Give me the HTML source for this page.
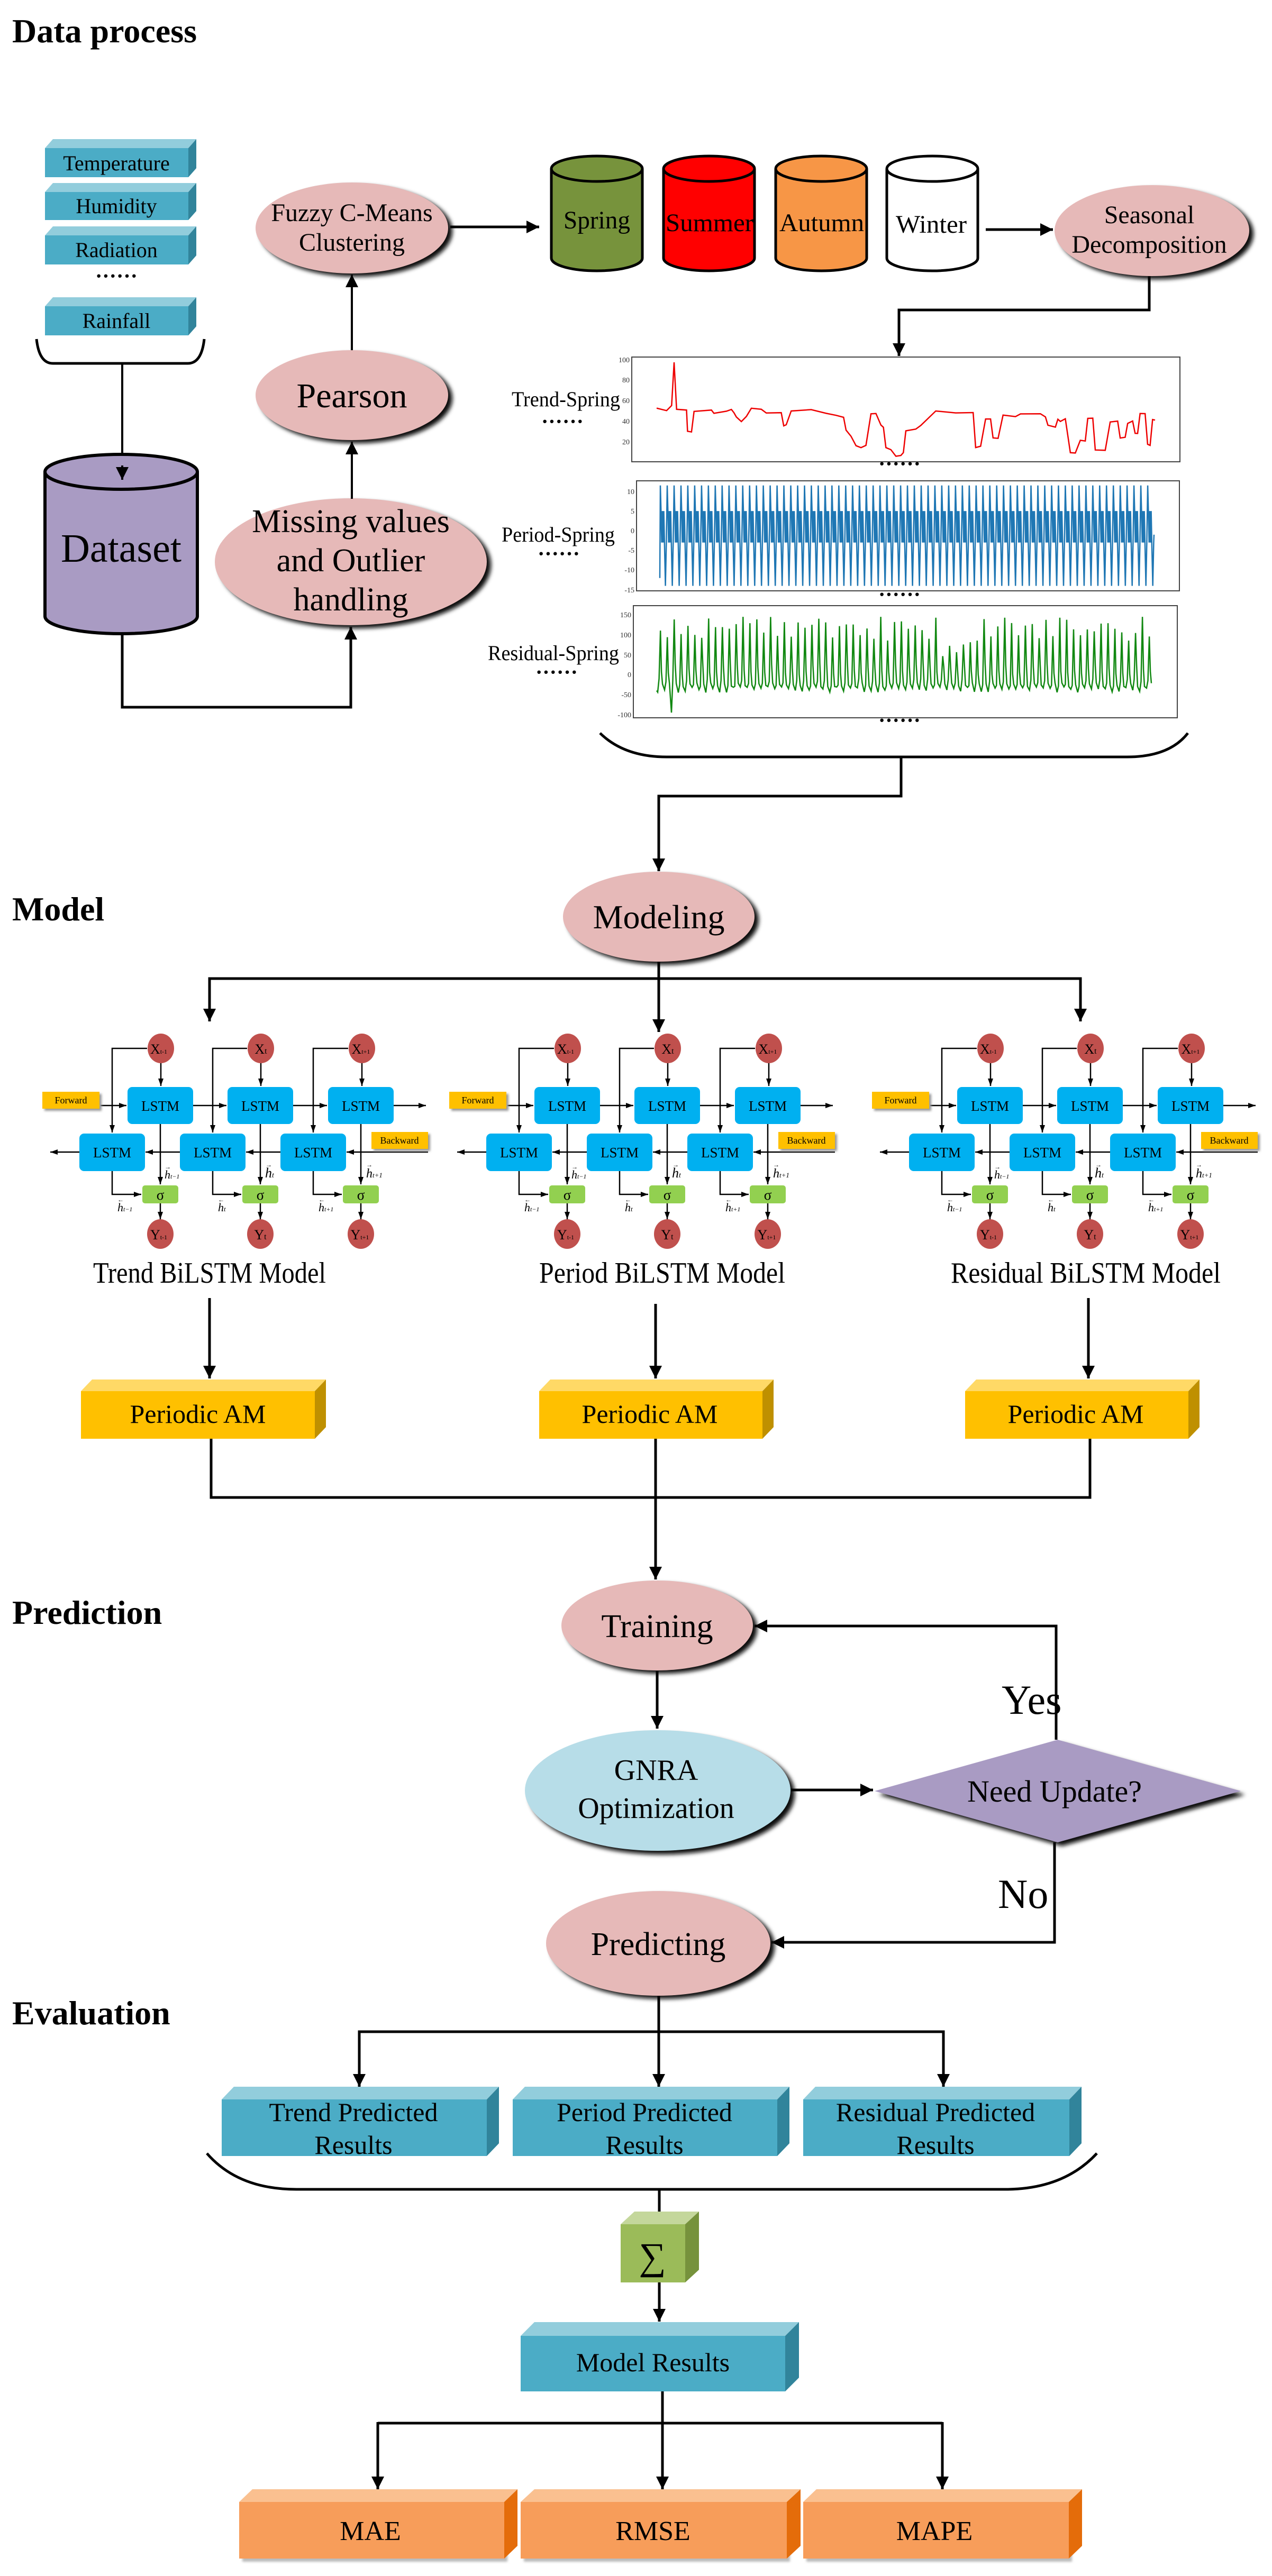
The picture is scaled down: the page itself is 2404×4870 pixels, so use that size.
<!DOCTYPE html>
<html><head><meta charset="utf-8"><style>
html,body{margin:0;padding:0;background:#fff;}
svg{display:block;}
text{font-family:"Liberation Serif",serif;}
</style></head><body>
<svg id="s" width="2404" height="4870" viewBox="0 0 2404 4870" xmlns="http://www.w3.org/2000/svg">
<defs>
<marker id="a" markerUnits="userSpaceOnUse" markerWidth="24" markerHeight="40" refX="24" refY="12" orient="auto"><path d="M0,0 L36,12 L0,24 Z" transform="scale(0.667,1)" fill="#000"/></marker>
<marker id="b" markerUnits="userSpaceOnUse" markerWidth="24" markerHeight="40" refX="34" refY="12" orient="auto"><path d="M0,0 L34,12 L0,24 Z" fill="#000"/></marker>
<marker id="sa" markerUnits="userSpaceOnUse" markerWidth="14" markerHeight="12" refX="14" refY="5" orient="auto"><path d="M0,0 L14,5 L0,10 Z" fill="#000"/></marker>
<filter id="sh" x="-20%" y="-20%" width="150%" height="150%"><feGaussianBlur stdDeviation="4"/></filter>
<filter id="sh2" x="-20%" y="-50%" width="150%" height="200%"><feGaussianBlur stdDeviation="2"/></filter>
</defs>

<!-- Section titles -->
<g font-weight="bold" font-size="64" fill="#000">
<text x="23" y="80">Data process</text>
<text x="23" y="1740">Model</text>
<text x="23" y="3070">Prediction</text>
<text x="23" y="3827">Evaluation</text>
</g>

<!-- Input cubes -->
<g font-size="40" text-anchor="middle">
<g><path d="M85,280 L100,263 L371,263 L356,280Z" fill="#92cddc"/><path d="M356,280 L371,263 L371,318 L356,335Z" fill="#31849b"/><rect x="85" y="280" width="271" height="55" fill="#4bacc6"/><text x="220" y="322">Temperature</text></g>
<g><path d="M85,363 L100,346 L371,346 L356,363Z" fill="#92cddc"/><path d="M356,363 L371,346 L371,399 L356,416Z" fill="#31849b"/><rect x="85" y="363" width="271" height="53" fill="#4bacc6"/><text x="220" y="403">Humidity</text></g>
<g><path d="M85,445 L100,428 L371,428 L356,445Z" fill="#92cddc"/><path d="M356,445 L371,428 L371,483 L356,500Z" fill="#31849b"/><rect x="85" y="445" width="271" height="55" fill="#4bacc6"/><text x="220" y="486">Radiation</text></g>
<text x="220" y="535" font-size="40" font-weight="bold">······</text>
<g><path d="M85,579 L100,562 L371,562 L356,579Z" fill="#92cddc"/><path d="M356,579 L371,562 L371,617 L356,634Z" fill="#31849b"/><rect x="85" y="579" width="271" height="55" fill="#4bacc6"/><text x="220" y="620">Rainfall</text></g>
</g>
<path d="M69,641 Q74,687 100,687 L355,687 Q381,687 386,641" fill="none" stroke="#000" stroke-width="5"/>
<path d="M231,687 V907" stroke="#000" stroke-width="4" marker-end="url(#a)" fill="none"/>

<!-- Dataset cylinder -->
<g stroke="#000" stroke-width="6">
<path d="M85,892 V1165 A144,33 0 0 0 373,1165 V892" fill="#a99bc3"/>
<ellipse cx="229" cy="892" rx="144" ry="33" fill="#a99bc3"/>
</g>
<path d="M231,880 V907" stroke="#000" stroke-width="4" marker-end="url(#a)" fill="none"/>
<text x="229" y="1062" font-size="76" text-anchor="middle">Dataset</text>
<path d="M231,1198 V1337 H663 V1185" stroke="#000" stroke-width="5" fill="none" marker-end="url(#a)"/>

<!-- Ellipses data process -->
<g>
<ellipse cx="671" cy="1068" rx="257" ry="120" fill="#111" filter="url(#sh)"/>
<ellipse cx="663" cy="1062" rx="257" ry="120" fill="#e6b9b8"/>
<g font-size="62" text-anchor="middle"><text x="663" y="1006">Missing values</text><text x="663" y="1080">and Outlier</text><text x="663" y="1154">handling</text></g>
</g>
<path d="M665,943 V835" stroke="#000" stroke-width="4" marker-end="url(#a)" fill="none"/>
<g>
<ellipse cx="673" cy="753" rx="182" ry="85" fill="#111" filter="url(#sh)"/>
<ellipse cx="665" cy="747" rx="182" ry="85" fill="#e6b9b8"/>
<text x="665" y="770" font-size="66" text-anchor="middle">Pearson</text>
</g>
<path d="M665,662 V519" stroke="#000" stroke-width="4" marker-end="url(#a)" fill="none"/>
<g>
<ellipse cx="673" cy="437" rx="182" ry="86" fill="#111" filter="url(#sh)"/>
<ellipse cx="665" cy="431" rx="182" ry="86" fill="#e6b9b8"/>
<g font-size="48" text-anchor="middle"><text x="665" y="418">Fuzzy C-Means</text><text x="665" y="474">Clustering</text></g>
</g>
<path d="M851,429 H1019" stroke="#000" stroke-width="5" marker-end="url(#a)" fill="none"/>

<!-- Season cylinders -->
<g stroke="#000" stroke-width="5">
<path d="M1042,319 V488 A86,24 0 0 0 1214,488 V319" fill="#77933c"/><ellipse cx="1128" cy="319" rx="86" ry="24" fill="#77933c"/>
<path d="M1254,319 V488 A86,24 0 0 0 1426,488 V319" fill="#ff0000"/><ellipse cx="1340" cy="319" rx="86" ry="24" fill="#ff0000"/>
<path d="M1466,319 V488 A86,24 0 0 0 1638,488 V319" fill="#f79646"/><ellipse cx="1552" cy="319" rx="86" ry="24" fill="#f79646"/>
<path d="M1676,319 V488 A86,24 0 0 0 1848,488 V319" fill="#fff"/><ellipse cx="1762" cy="319" rx="86" ry="24" fill="#fff"/>
</g>
<g font-size="48" text-anchor="middle">
<text x="1128" y="432" textLength="126" lengthAdjust="spacingAndGlyphs">Spring</text>
<text x="1341" y="437" textLength="166" lengthAdjust="spacingAndGlyphs">Summer</text>
<text x="1553" y="437" textLength="160" lengthAdjust="spacingAndGlyphs">Autumn</text>
<text x="1760" y="440" textLength="134" lengthAdjust="spacingAndGlyphs">Winter</text>
</g>
<path d="M1863,434 H1990" stroke="#000" stroke-width="5" marker-end="url(#a)" fill="none"/>
<g>
<ellipse cx="2185" cy="442" rx="184" ry="86" fill="#111" filter="url(#sh)"/>
<ellipse cx="2177" cy="436" rx="184" ry="86" fill="#e6b9b8"/>
<g font-size="48" text-anchor="middle"><text x="2172" y="422">Seasonal</text><text x="2172" y="478">Decomposition</text></g>
</g>
<path d="M2172,522 V586 H1699 V673" stroke="#000" stroke-width="5" marker-end="url(#a)" fill="none"/>

<!-- Charts -->
<g fill="none" stroke="#444" stroke-width="2">
<rect x="1194" y="675" width="1036" height="198"/>
<rect x="1203" y="909" width="1026" height="208"/>
<rect x="1197" y="1145" width="1028" height="212"/>
</g>
<g font-size="14" fill="#333" text-anchor="end" font-family="Liberation Sans">
<text x="1190" y="685">100</text><text x="1190" y="723">80</text><text x="1190" y="762">60</text><text x="1190" y="801">40</text><text x="1190" y="840">20</text>
<text x="1199" y="934">10</text><text x="1199" y="971">5</text><text x="1199" y="1008">0</text><text x="1199" y="1045">-5</text><text x="1199" y="1082">-10</text><text x="1199" y="1120">-15</text>
<text x="1193" y="1167">150</text><text x="1193" y="1205">100</text><text x="1193" y="1243">50</text><text x="1193" y="1280">0</text><text x="1193" y="1318">-50</text><text x="1193" y="1356">-100</text>
</g>
<path id="tr" fill="none" stroke="#e00" stroke-width="2.5"/>
<path id="pe" fill="none" stroke="#1f77b4" stroke-width="2.5"/>
<path id="re" fill="none" stroke="#118811" stroke-width="2.5"/>
<g font-size="40" text-anchor="end">
<text x="1172" y="768" textLength="205" lengthAdjust="spacingAndGlyphs">Trend-Spring</text>
<text x="1162" y="1024" textLength="214" lengthAdjust="spacingAndGlyphs">Period-Spring</text>
<text x="1170" y="1248" textLength="248" lengthAdjust="spacingAndGlyphs">Residual-Spring</text>
</g>
<g font-size="40" font-weight="bold" text-anchor="middle">
<text x="1063" y="810">······</text><text x="1056" y="1060">······</text><text x="1052" y="1284">······</text>
<text x="1700" y="890">······</text><text x="1700" y="1137">······</text><text x="1700" y="1375">······</text>
</g>
<path d="M1134,1386 Q1180,1431 1260,1431 L2130,1431 Q2210,1431 2245,1386" fill="none" stroke="#000" stroke-width="5"/>
<path d="M1703,1431 V1505 H1245 V1647" stroke="#000" stroke-width="5" marker-end="url(#a)" fill="none"/>

<!-- Modeling -->
<ellipse cx="1253" cy="1739" rx="181" ry="85" fill="#111" filter="url(#sh)"/>
<ellipse cx="1245" cy="1733" rx="181" ry="85" fill="#e6b9b8"/>
<text x="1245" y="1755" font-size="64" text-anchor="middle">Modeling</text>
<path d="M1245,1818 V1951" stroke="#000" stroke-width="5" marker-end="url(#a)" fill="none"/>
<path d="M396,1929 V1850 H2042 V1929" stroke="#000" stroke-width="5" fill="none"/>
<path d="M396,1890 V1931" stroke="#000" stroke-width="5" marker-end="url(#a)" fill="none"/>
<path d="M2042,1890 V1931" stroke="#000" stroke-width="5" marker-end="url(#a)" fill="none"/>

<!-- BiLSTM diagram template (drawn 3 times) -->
<g id="d1">
<g fill="none" stroke="#000" stroke-width="2.5">
<path d="M278,1982 H212 V2141" marker-end="url(#sa)"/>
<path d="M467,1982 H402 V2141" marker-end="url(#sa)"/>
<path d="M658,1982 H592 V2141" marker-end="url(#sa)"/>
<path d="M304,2008 V2053" marker-end="url(#sa)"/>
<path d="M493,2008 V2053" marker-end="url(#sa)"/>
<path d="M684,2008 V2053" marker-end="url(#sa)"/>
<path d="M303,2125 V2239" marker-end="url(#sa)"/>
<path d="M492,2125 V2239" marker-end="url(#sa)"/>
<path d="M682,2125 V2239" marker-end="url(#sa)"/>
<path d="M212,2214 V2258 H267" marker-end="url(#sa)"/>
<path d="M402,2214 V2258 H456" marker-end="url(#sa)"/>
<path d="M592,2214 V2258 H646" marker-end="url(#sa)"/>
<path d="M303,2275 V2305" marker-end="url(#sa)"/>
<path d="M492,2275 V2305" marker-end="url(#sa)"/>
<path d="M682,2275 V2305" marker-end="url(#sa)"/>
<path d="M190,2090 H239" marker-end="url(#sa)"/>
<path d="M365,2090 H428" marker-end="url(#sa)"/>
<path d="M554,2090 H618" marker-end="url(#sa)"/>
<path d="M744,2090 H805" marker-end="url(#sa)"/>
<path d="M809,2178 H655" marker-end="url(#sa)"/>
<path d="M530,2178 H465" marker-end="url(#sa)"/>
<path d="M340,2178 H275" marker-end="url(#sa)"/>
<path d="M150,2178 H95" marker-end="url(#sa)"/>
</g>
<g fill="#00b0f0">
<rect x="241" y="2055" width="124" height="70" rx="9"/><rect x="430" y="2055" width="124" height="70" rx="9"/><rect x="620" y="2055" width="124" height="70" rx="9"/>
<rect x="150" y="2143" width="124" height="71" rx="9"/><rect x="340" y="2143" width="124" height="71" rx="9"/><rect x="530" y="2143" width="124" height="71" rx="9"/>
</g>
<g fill="#92d050"><rect x="269" y="2241" width="68" height="34" rx="5"/><rect x="458" y="2241" width="68" height="34" rx="5"/><rect x="648" y="2241" width="68" height="34" rx="5"/></g>
<g fill="#c0504d">
<ellipse cx="304" cy="1982" rx="25" ry="28"/><ellipse cx="493" cy="1982" rx="25" ry="28"/><ellipse cx="684" cy="1982" rx="25" ry="28"/>
<ellipse cx="303" cy="2333" rx="25" ry="28"/><ellipse cx="492" cy="2333" rx="25" ry="28"/><ellipse cx="682" cy="2333" rx="25" ry="28"/>
</g>
<rect x="84" y="2068" width="108" height="32" fill="#999" filter="url(#sh2)"/>
<rect x="80" y="2064" width="108" height="32" fill="#ffc000"/>
<rect x="706" y="2144" width="107" height="32" fill="#999" filter="url(#sh2)"/>
<rect x="702" y="2140" width="107" height="32" fill="#ffc000"/>
<g font-size="18" text-anchor="middle"><text x="134" y="2086">Forward</text><text x="755" y="2162">Backward</text></g>
<g font-size="27" text-anchor="middle">
<text x="303" y="2100">LSTM</text><text x="492" y="2100">LSTM</text><text x="682" y="2100">LSTM</text>
<text x="212" y="2188">LSTM</text><text x="402" y="2188">LSTM</text><text x="592" y="2188">LSTM</text>
<text x="303" y="2268">σ</text><text x="492" y="2268">σ</text><text x="682" y="2268">σ</text>
<text x="300" y="1992" font-size="26">X<tspan font-size="12">t-1</tspan></text>
<text x="493" y="1992" font-size="26">X<tspan font-size="16">t</tspan></text>
<text x="682" y="1992" font-size="26">X<tspan font-size="12">t+1</tspan></text>
<text x="300" y="2343" font-size="26">Y<tspan font-size="12">t-1</tspan></text>
<text x="492" y="2343" font-size="26">Y<tspan font-size="16">t</tspan></text>
<text x="680" y="2343" font-size="26">Y<tspan font-size="12">t+1</tspan></text>
</g>
<g font-size="22" font-style="italic">
<text x="311" y="2228">h<tspan font-size="12">t−1</tspan></text><text x="311" y="2210" font-size="12">→</text>
<text x="501" y="2226" font-size="26">h<tspan font-size="14">t</tspan></text><text x="502" y="2206" font-size="12">→</text>
<text x="692" y="2226" font-size="24">h<tspan font-size="13">t+1</tspan></text><text x="692" y="2206" font-size="12">→</text>
<text x="222" y="2290">h<tspan font-size="12">t−1</tspan></text><text x="222" y="2272" font-size="12">←</text>
<text x="412" y="2290">h<tspan font-size="13">t</tspan></text><text x="412" y="2272" font-size="12">←</text>
<text x="602" y="2290">h<tspan font-size="12">t+1</tspan></text><text x="602" y="2272" font-size="12">←</text>
</g>
</g>
<g transform="translate(769,0)">
<g fill="none" stroke="#000" stroke-width="2.5">
<path d="M278,1982 H212 V2141" marker-end="url(#sa)"/><path d="M467,1982 H402 V2141" marker-end="url(#sa)"/><path d="M658,1982 H592 V2141" marker-end="url(#sa)"/>
<path d="M304,2008 V2053" marker-end="url(#sa)"/><path d="M493,2008 V2053" marker-end="url(#sa)"/><path d="M684,2008 V2053" marker-end="url(#sa)"/>
<path d="M303,2125 V2239" marker-end="url(#sa)"/><path d="M492,2125 V2239" marker-end="url(#sa)"/><path d="M682,2125 V2239" marker-end="url(#sa)"/>
<path d="M212,2214 V2258 H267" marker-end="url(#sa)"/><path d="M402,2214 V2258 H456" marker-end="url(#sa)"/><path d="M592,2214 V2258 H646" marker-end="url(#sa)"/>
<path d="M303,2275 V2305" marker-end="url(#sa)"/><path d="M492,2275 V2305" marker-end="url(#sa)"/><path d="M682,2275 V2305" marker-end="url(#sa)"/>
<path d="M190,2090 H239" marker-end="url(#sa)"/><path d="M365,2090 H428" marker-end="url(#sa)"/><path d="M554,2090 H618" marker-end="url(#sa)"/><path d="M744,2090 H805" marker-end="url(#sa)"/>
<path d="M809,2178 H655" marker-end="url(#sa)"/><path d="M530,2178 H465" marker-end="url(#sa)"/><path d="M340,2178 H275" marker-end="url(#sa)"/><path d="M150,2178 H95" marker-end="url(#sa)"/>
</g>
<g fill="#00b0f0">
<rect x="241" y="2055" width="124" height="70" rx="9"/><rect x="430" y="2055" width="124" height="70" rx="9"/><rect x="620" y="2055" width="124" height="70" rx="9"/>
<rect x="150" y="2143" width="124" height="71" rx="9"/><rect x="340" y="2143" width="124" height="71" rx="9"/><rect x="530" y="2143" width="124" height="71" rx="9"/>
</g>
<g fill="#92d050"><rect x="269" y="2241" width="68" height="34" rx="5"/><rect x="458" y="2241" width="68" height="34" rx="5"/><rect x="648" y="2241" width="68" height="34" rx="5"/></g>
<g fill="#c0504d">
<ellipse cx="304" cy="1982" rx="25" ry="28"/><ellipse cx="493" cy="1982" rx="25" ry="28"/><ellipse cx="684" cy="1982" rx="25" ry="28"/>
<ellipse cx="303" cy="2333" rx="25" ry="28"/><ellipse cx="492" cy="2333" rx="25" ry="28"/><ellipse cx="682" cy="2333" rx="25" ry="28"/>
</g>
<rect x="84" y="2068" width="108" height="32" fill="#999" filter="url(#sh2)"/><rect x="80" y="2064" width="108" height="32" fill="#ffc000"/>
<rect x="706" y="2144" width="107" height="32" fill="#999" filter="url(#sh2)"/><rect x="702" y="2140" width="107" height="32" fill="#ffc000"/>
<g font-size="18" text-anchor="middle"><text x="134" y="2086">Forward</text><text x="755" y="2162">Backward</text></g>
<g font-size="27" text-anchor="middle">
<text x="303" y="2100">LSTM</text><text x="492" y="2100">LSTM</text><text x="682" y="2100">LSTM</text>
<text x="212" y="2188">LSTM</text><text x="402" y="2188">LSTM</text><text x="592" y="2188">LSTM</text>
<text x="303" y="2268">σ</text><text x="492" y="2268">σ</text><text x="682" y="2268">σ</text>
<text x="300" y="1992" font-size="26">X<tspan font-size="12">t-1</tspan></text><text x="493" y="1992" font-size="26">X<tspan font-size="16">t</tspan></text><text x="682" y="1992" font-size="26">X<tspan font-size="12">t+1</tspan></text>
<text x="300" y="2343" font-size="26">Y<tspan font-size="12">t-1</tspan></text><text x="492" y="2343" font-size="26">Y<tspan font-size="16">t</tspan></text><text x="680" y="2343" font-size="26">Y<tspan font-size="12">t+1</tspan></text>
</g>
<g font-size="22" font-style="italic">
<text x="311" y="2228">h<tspan font-size="12">t−1</tspan></text><text x="311" y="2210" font-size="12">→</text>
<text x="501" y="2226" font-size="26">h<tspan font-size="14">t</tspan></text><text x="502" y="2206" font-size="12">→</text>
<text x="692" y="2226" font-size="24">h<tspan font-size="13">t+1</tspan></text><text x="692" y="2206" font-size="12">→</text>
<text x="222" y="2290">h<tspan font-size="12">t−1</tspan></text><text x="222" y="2272" font-size="12">←</text>
<text x="412" y="2290">h<tspan font-size="13">t</tspan></text><text x="412" y="2272" font-size="12">←</text>
<text x="602" y="2290">h<tspan font-size="12">t+1</tspan></text><text x="602" y="2272" font-size="12">←</text>
</g>
</g>
<g transform="translate(1568,0)">
<g fill="none" stroke="#000" stroke-width="2.5">
<path d="M278,1982 H212 V2141" marker-end="url(#sa)"/><path d="M467,1982 H402 V2141" marker-end="url(#sa)"/><path d="M658,1982 H592 V2141" marker-end="url(#sa)"/>
<path d="M304,2008 V2053" marker-end="url(#sa)"/><path d="M493,2008 V2053" marker-end="url(#sa)"/><path d="M684,2008 V2053" marker-end="url(#sa)"/>
<path d="M303,2125 V2239" marker-end="url(#sa)"/><path d="M492,2125 V2239" marker-end="url(#sa)"/><path d="M682,2125 V2239" marker-end="url(#sa)"/>
<path d="M212,2214 V2258 H267" marker-end="url(#sa)"/><path d="M402,2214 V2258 H456" marker-end="url(#sa)"/><path d="M592,2214 V2258 H646" marker-end="url(#sa)"/>
<path d="M303,2275 V2305" marker-end="url(#sa)"/><path d="M492,2275 V2305" marker-end="url(#sa)"/><path d="M682,2275 V2305" marker-end="url(#sa)"/>
<path d="M190,2090 H239" marker-end="url(#sa)"/><path d="M365,2090 H428" marker-end="url(#sa)"/><path d="M554,2090 H618" marker-end="url(#sa)"/><path d="M744,2090 H805" marker-end="url(#sa)"/>
<path d="M809,2178 H655" marker-end="url(#sa)"/><path d="M530,2178 H465" marker-end="url(#sa)"/><path d="M340,2178 H275" marker-end="url(#sa)"/><path d="M150,2178 H95" marker-end="url(#sa)"/>
</g>
<g fill="#00b0f0">
<rect x="241" y="2055" width="124" height="70" rx="9"/><rect x="430" y="2055" width="124" height="70" rx="9"/><rect x="620" y="2055" width="124" height="70" rx="9"/>
<rect x="150" y="2143" width="124" height="71" rx="9"/><rect x="340" y="2143" width="124" height="71" rx="9"/><rect x="530" y="2143" width="124" height="71" rx="9"/>
</g>
<g fill="#92d050"><rect x="269" y="2241" width="68" height="34" rx="5"/><rect x="458" y="2241" width="68" height="34" rx="5"/><rect x="648" y="2241" width="68" height="34" rx="5"/></g>
<g fill="#c0504d">
<ellipse cx="304" cy="1982" rx="25" ry="28"/><ellipse cx="493" cy="1982" rx="25" ry="28"/><ellipse cx="684" cy="1982" rx="25" ry="28"/>
<ellipse cx="303" cy="2333" rx="25" ry="28"/><ellipse cx="492" cy="2333" rx="25" ry="28"/><ellipse cx="682" cy="2333" rx="25" ry="28"/>
</g>
<rect x="84" y="2068" width="108" height="32" fill="#999" filter="url(#sh2)"/><rect x="80" y="2064" width="108" height="32" fill="#ffc000"/>
<rect x="706" y="2144" width="107" height="32" fill="#999" filter="url(#sh2)"/><rect x="702" y="2140" width="107" height="32" fill="#ffc000"/>
<g font-size="18" text-anchor="middle"><text x="134" y="2086">Forward</text><text x="755" y="2162">Backward</text></g>
<g font-size="27" text-anchor="middle">
<text x="303" y="2100">LSTM</text><text x="492" y="2100">LSTM</text><text x="682" y="2100">LSTM</text>
<text x="212" y="2188">LSTM</text><text x="402" y="2188">LSTM</text><text x="592" y="2188">LSTM</text>
<text x="303" y="2268">σ</text><text x="492" y="2268">σ</text><text x="682" y="2268">σ</text>
<text x="300" y="1992" font-size="26">X<tspan font-size="12">t-1</tspan></text><text x="493" y="1992" font-size="26">X<tspan font-size="16">t</tspan></text><text x="682" y="1992" font-size="26">X<tspan font-size="12">t+1</tspan></text>
<text x="300" y="2343" font-size="26">Y<tspan font-size="12">t-1</tspan></text><text x="492" y="2343" font-size="26">Y<tspan font-size="16">t</tspan></text><text x="680" y="2343" font-size="26">Y<tspan font-size="12">t+1</tspan></text>
</g>
<g font-size="22" font-style="italic">
<text x="311" y="2228">h<tspan font-size="12">t−1</tspan></text><text x="311" y="2210" font-size="12">→</text>
<text x="501" y="2226" font-size="26">h<tspan font-size="14">t</tspan></text><text x="502" y="2206" font-size="12">→</text>
<text x="692" y="2226" font-size="24">h<tspan font-size="13">t+1</tspan></text><text x="692" y="2206" font-size="12">→</text>
<text x="222" y="2290">h<tspan font-size="12">t−1</tspan></text><text x="222" y="2272" font-size="12">←</text>
<text x="412" y="2290">h<tspan font-size="13">t</tspan></text><text x="412" y="2272" font-size="12">←</text>
<text x="602" y="2290">h<tspan font-size="12">t+1</tspan></text><text x="602" y="2272" font-size="12">←</text>
</g>
</g>

<g font-size="56">
<text x="176" y="2425" textLength="440" lengthAdjust="spacingAndGlyphs">Trend BiLSTM Model</text>
<text x="1019" y="2425" textLength="465" lengthAdjust="spacingAndGlyphs">Period  BiLSTM Model</text>
<text x="1797" y="2425" textLength="510" lengthAdjust="spacingAndGlyphs">Residual  BiLSTM Model</text>
</g>
<g stroke="#000" stroke-width="5" fill="none">
<path d="M396,2454 V2606" marker-end="url(#a)"/>
<path d="M1239,2465 V2606" marker-end="url(#a)"/>
<path d="M2057,2454 V2606" marker-end="url(#a)"/>
</g>

<!-- Periodic AM -->
<g font-size="50" text-anchor="middle">
<g><path d="M153,2630 L174,2608 L616,2608 L595,2630Z" fill="#ffd966"/><path d="M595,2630 L616,2608 L616,2698 L595,2720Z" fill="#bf9000"/><rect x="153" y="2630" width="442" height="90" fill="#ffc000"/><text x="374" y="2690">Periodic AM</text></g>
<g><path d="M1019,2630 L1040,2608 L1462,2608 L1441,2630Z" fill="#ffd966"/><path d="M1441,2630 L1462,2608 L1462,2698 L1441,2720Z" fill="#bf9000"/><rect x="1019" y="2630" width="422" height="90" fill="#ffc000"/><text x="1228" y="2690">Periodic AM</text></g>
<g><path d="M1824,2630 L1845,2608 L2267,2608 L2246,2630Z" fill="#ffd966"/><path d="M2246,2630 L2267,2608 L2267,2698 L2246,2720Z" fill="#bf9000"/><rect x="1824" y="2630" width="422" height="90" fill="#ffc000"/><text x="2033" y="2690">Periodic AM</text></g>
</g>
<path d="M399,2720 V2831 H2060 V2720" stroke="#000" stroke-width="5" fill="none"/>
<path d="M1239,2720 V2986" stroke="#000" stroke-width="5" fill="none" marker-end="url(#a)"/>

<!-- Prediction -->
<ellipse cx="1250" cy="3079" rx="181" ry="85" fill="#111" filter="url(#sh)"/>
<ellipse cx="1242" cy="3073" rx="181" ry="85" fill="#e6b9b8"/>
<text x="1242" y="3095" font-size="62" text-anchor="middle">Training</text>
<path d="M1242,3159 V3268" stroke="#000" stroke-width="5" fill="none" marker-end="url(#a)"/>
<ellipse cx="1251" cy="3392" rx="251" ry="114" fill="#111" filter="url(#sh)"/>
<ellipse cx="1243" cy="3385" rx="251" ry="114" fill="#b7dde8"/>
<g font-size="56" text-anchor="middle"><text x="1240" y="3365">GNRA</text><text x="1240" y="3437">Optimization</text></g>
<path d="M1495,3384 H1650" stroke="#000" stroke-width="5" fill="none" marker-end="url(#a)"/>
<path d="M1661,3393 L2007,3296 L2353,3393 L2007,3490Z" fill="#111" filter="url(#sh)"/>
<path d="M1653,3386 L1999,3289 L2345,3386 L1999,3483Z" fill="#a99bc3"/>
<text x="1993" y="3406" font-size="58" text-anchor="middle">Need Update?</text>
<path d="M1996,3289 V3074 H1426" stroke="#000" stroke-width="5" fill="none" marker-end="url(#a)"/>
<text x="1893" y="3240" font-size="78">Yes</text>
<path d="M1993,3483 V3672 H1458" stroke="#000" stroke-width="5" fill="none" marker-end="url(#a)"/>
<text x="1886" y="3607" font-size="78">No</text>
<ellipse cx="1252" cy="3680" rx="212" ry="99" fill="#111" filter="url(#sh)"/>
<ellipse cx="1244" cy="3674" rx="212" ry="99" fill="#e6b9b8"/>
<text x="1244" y="3696" font-size="62" text-anchor="middle">Predicting</text>

<!-- Evaluation -->
<path d="M1245,3773 V3841 H679 V3943 M1245,3841 V3943 M1245,3841 H1783 V3943" stroke="#000" stroke-width="5" fill="none"/>
<path d="M679,3900 V3945" stroke="#000" stroke-width="5" fill="none" marker-end="url(#a)"/>
<path d="M1245,3900 V3945" stroke="#000" stroke-width="5" fill="none" marker-end="url(#a)"/>
<path d="M1783,3900 V3945" stroke="#000" stroke-width="5" fill="none" marker-end="url(#a)"/>
<g font-size="50" text-anchor="middle">
<g><path d="M419,3969 L442,3945 L943,3945 L920,3969Z" fill="#92cddc"/><path d="M920,3969 L943,3945 L943,4052 L920,4076Z" fill="#31849b"/><rect x="419" y="3969" width="501" height="107" fill="#4bacc6"/><text x="668" y="4010">Trend Predicted</text><text x="668" y="4072">Results</text></g>
<g><path d="M969,3969 L992,3945 L1492,3945 L1469,3969Z" fill="#92cddc"/><path d="M1469,3969 L1492,3945 L1492,4052 L1469,4076Z" fill="#31849b"/><rect x="969" y="3969" width="500" height="107" fill="#4bacc6"/><text x="1218" y="4010">Period Predicted</text><text x="1218" y="4072">Results</text></g>
<g><path d="M1518,3969 L1541,3945 L2044,3945 L2021,3969Z" fill="#92cddc"/><path d="M2021,3969 L2044,3945 L2044,4052 L2021,4076Z" fill="#31849b"/><rect x="1518" y="3969" width="503" height="107" fill="#4bacc6"/><text x="1768" y="4010">Residual Predicted</text><text x="1768" y="4072">Results</text></g>
</g>
<path d="M391,4071 Q450,4139 560,4139 L1900,4139 Q2010,4139 2073,4071" fill="none" stroke="#000" stroke-width="5"/>
<path d="M1246,4139 V4181" stroke="#000" stroke-width="5"/>
<g><path d="M1173,4205 L1199,4181 L1321,4181 L1295,4205Z" fill="#c4d79b"/><path d="M1295,4205 L1321,4181 L1321,4291 L1295,4315Z" fill="#76923c"/><rect x="1173" y="4205" width="122" height="110" fill="#9bbb59"/><text x="1233" y="4290" font-size="72" text-anchor="middle">∑</text></g>
<path d="M1246,4315 V4389" stroke="#000" stroke-width="5" fill="none" marker-end="url(#a)"/>
<g><path d="M984,4416 L1010,4390 L1510,4390 L1484,4416Z" fill="#92cddc"/><path d="M1484,4416 L1510,4390 L1510,4495 L1484,4521Z" fill="#31849b"/><rect x="984" y="4416" width="500" height="105" fill="#4bacc6"/><text x="1234" y="4483" font-size="50" text-anchor="middle">Model Results</text></g>
<path d="M1252,4521 V4581 H714 M1252,4581 H1781" stroke="#000" stroke-width="5" fill="none"/>
<path d="M714,4579 V4706" stroke="#000" stroke-width="5" fill="none" marker-end="url(#a)"/>
<path d="M1252,4579 V4706" stroke="#000" stroke-width="5" fill="none" marker-end="url(#a)"/>
<path d="M1781,4579 V4706" stroke="#000" stroke-width="5" fill="none" marker-end="url(#a)"/>
<g font-size="52" text-anchor="middle">
<g><rect x="458" y="4736" width="501" height="107" fill="#bbb" filter="url(#sh2)"/><path d="M452,4730 L477,4706 L978,4706 L953,4730Z" fill="#fac090"/><path d="M953,4730 L978,4706 L978,4813 L953,4837Z" fill="#e46c0a"/><rect x="452" y="4730" width="501" height="107" fill="#f79d5a"/><text x="700" y="4802">MAE</text></g>
<g><rect x="990" y="4736" width="503" height="107" fill="#bbb" filter="url(#sh2)"/><path d="M984,4730 L1010,4706 L1513,4706 L1487,4730Z" fill="#fac090"/><path d="M1487,4730 L1513,4706 L1513,4813 L1487,4837Z" fill="#e46c0a"/><rect x="984" y="4730" width="503" height="107" fill="#f79d5a"/><text x="1234" y="4802">RMSE</text></g>
<g><rect x="1524" y="4736" width="502" height="107" fill="#bbb" filter="url(#sh2)"/><path d="M1518,4730 L1543,4706 L2045,4706 L2020,4730Z" fill="#fac090"/><path d="M2020,4730 L2045,4706 L2045,4813 L2020,4837Z" fill="#e46c0a"/><rect x="1518" y="4730" width="502" height="107" fill="#f79d5a"/><text x="1766" y="4802">MAPE</text></g>
</g>
</svg>
<script>
(function(){
var seed=7;function r(){seed=(seed*16807)%2147483647;return seed/2147483647;}
// trend
var L=[[0,52],[0.02,51],[0.03,55],[0.035,97],[0.04,52],[0.06,51],[0.062,30],[0.07,30],[0.075,50],[0.11,51],[0.115,48],[0.14,50],[0.15,52],[0.155,48],[0.16,44],[0.17,40],[0.18,45],[0.19,52],[0.21,52],[0.22,48],[0.25,49],[0.255,36],[0.26,36],[0.27,50],[0.31,52],[0.34,48],[0.36,46],[0.375,44],[0.38,32],[0.39,26],[0.40,16],[0.41,14],[0.42,17],[0.43,47],[0.44,47],[0.45,36],[0.455,34],[0.46,14],[0.47,13],[0.48,6],[0.49,7],[0.495,10],[0.5,30],[0.52,32],[0.53,36],[0.56,50],[0.6,48],[0.635,48],[0.64,15],[0.65,15],[0.66,42],[0.67,42],[0.675,24],[0.685,24],[0.695,46],[0.72,44],[0.73,47],[0.77,47],[0.78,44],[0.785,36],[0.8,34],[0.805,42],[0.81,40],[0.82,42],[0.83,10],[0.84,9],[0.85,22],[0.86,21],[0.865,43],[0.875,43],[0.88,12],[0.9,12],[0.91,40],[0.925,40],[0.93,24],[0.94,24],[0.945,38],[0.955,40],[0.96,28],[0.965,28],[0.97,48],[0.98,48],[0.985,17],[0.99,17],[0.995,41],[1,41]];
var d='';for(var i=0;i<L.length;i++){var x=1241+L[i][0]*942,y=680+(100-L[i][1])*1.94+ (r()-0.5)*3;d+=(i?'L':'M')+x.toFixed(1)+','+y.toFixed(1);}
document.getElementById('tr').setAttribute('d',d);
// period
var n=72,x0=1247,x1=2181,w=(x1-x0)/n;function py(v){return 929+(10-v)*7.44;}
d='M'+x0+','+py(-12).toFixed(1);
for(var k=0;k<n;k++){var b=x0+k*w;
 var pts=[[0.08,11.5],[0.18,5],[0.28,-3],[0.38,5],[0.48,-3],[0.58,5],[0.68,-3],[0.82,-14],[0.95,-3]];
 for(var j=0;j<pts.length;j++){d+='L'+(b+pts[j][0]*w).toFixed(1)+','+py(pts[j][1]).toFixed(1);}
}
d+='L'+x1+','+py(-1);document.getElementById('pe').setAttribute('d',d);
// residual
n=72;x0=1241;x1=2178;w=(x1-x0)/n;function ry(v){return 1162+(150-v)*0.756;}
d='M'+x0+','+ry(-40);
for(k=0;k<n;k++){b=x0+k*w;var mid=(k>40&&k<46)?1:0;
 var pk=mid?40+r()*60:85+r()*60; if(k==0)pk=110;
 var tr1=-45+r()*15; if(k==2)tr1=-95;
 d+='L'+(b+0.15*w).toFixed(1)+','+ry(tr1).toFixed(1);
 d+='L'+(b+0.35*w).toFixed(1)+','+ry(-30+r()*20).toFixed(1);
 d+='L'+(b+0.55*w).toFixed(1)+','+ry(pk).toFixed(1);
 d+='L'+(b+0.7*w).toFixed(1)+','+ry(0+r()*30).toFixed(1);
 d+='L'+(b+0.85*w).toFixed(1)+','+ry(-30+r()*10).toFixed(1);
}
document.getElementById('re').setAttribute('d',d);
})();
</script>
</body></html>
